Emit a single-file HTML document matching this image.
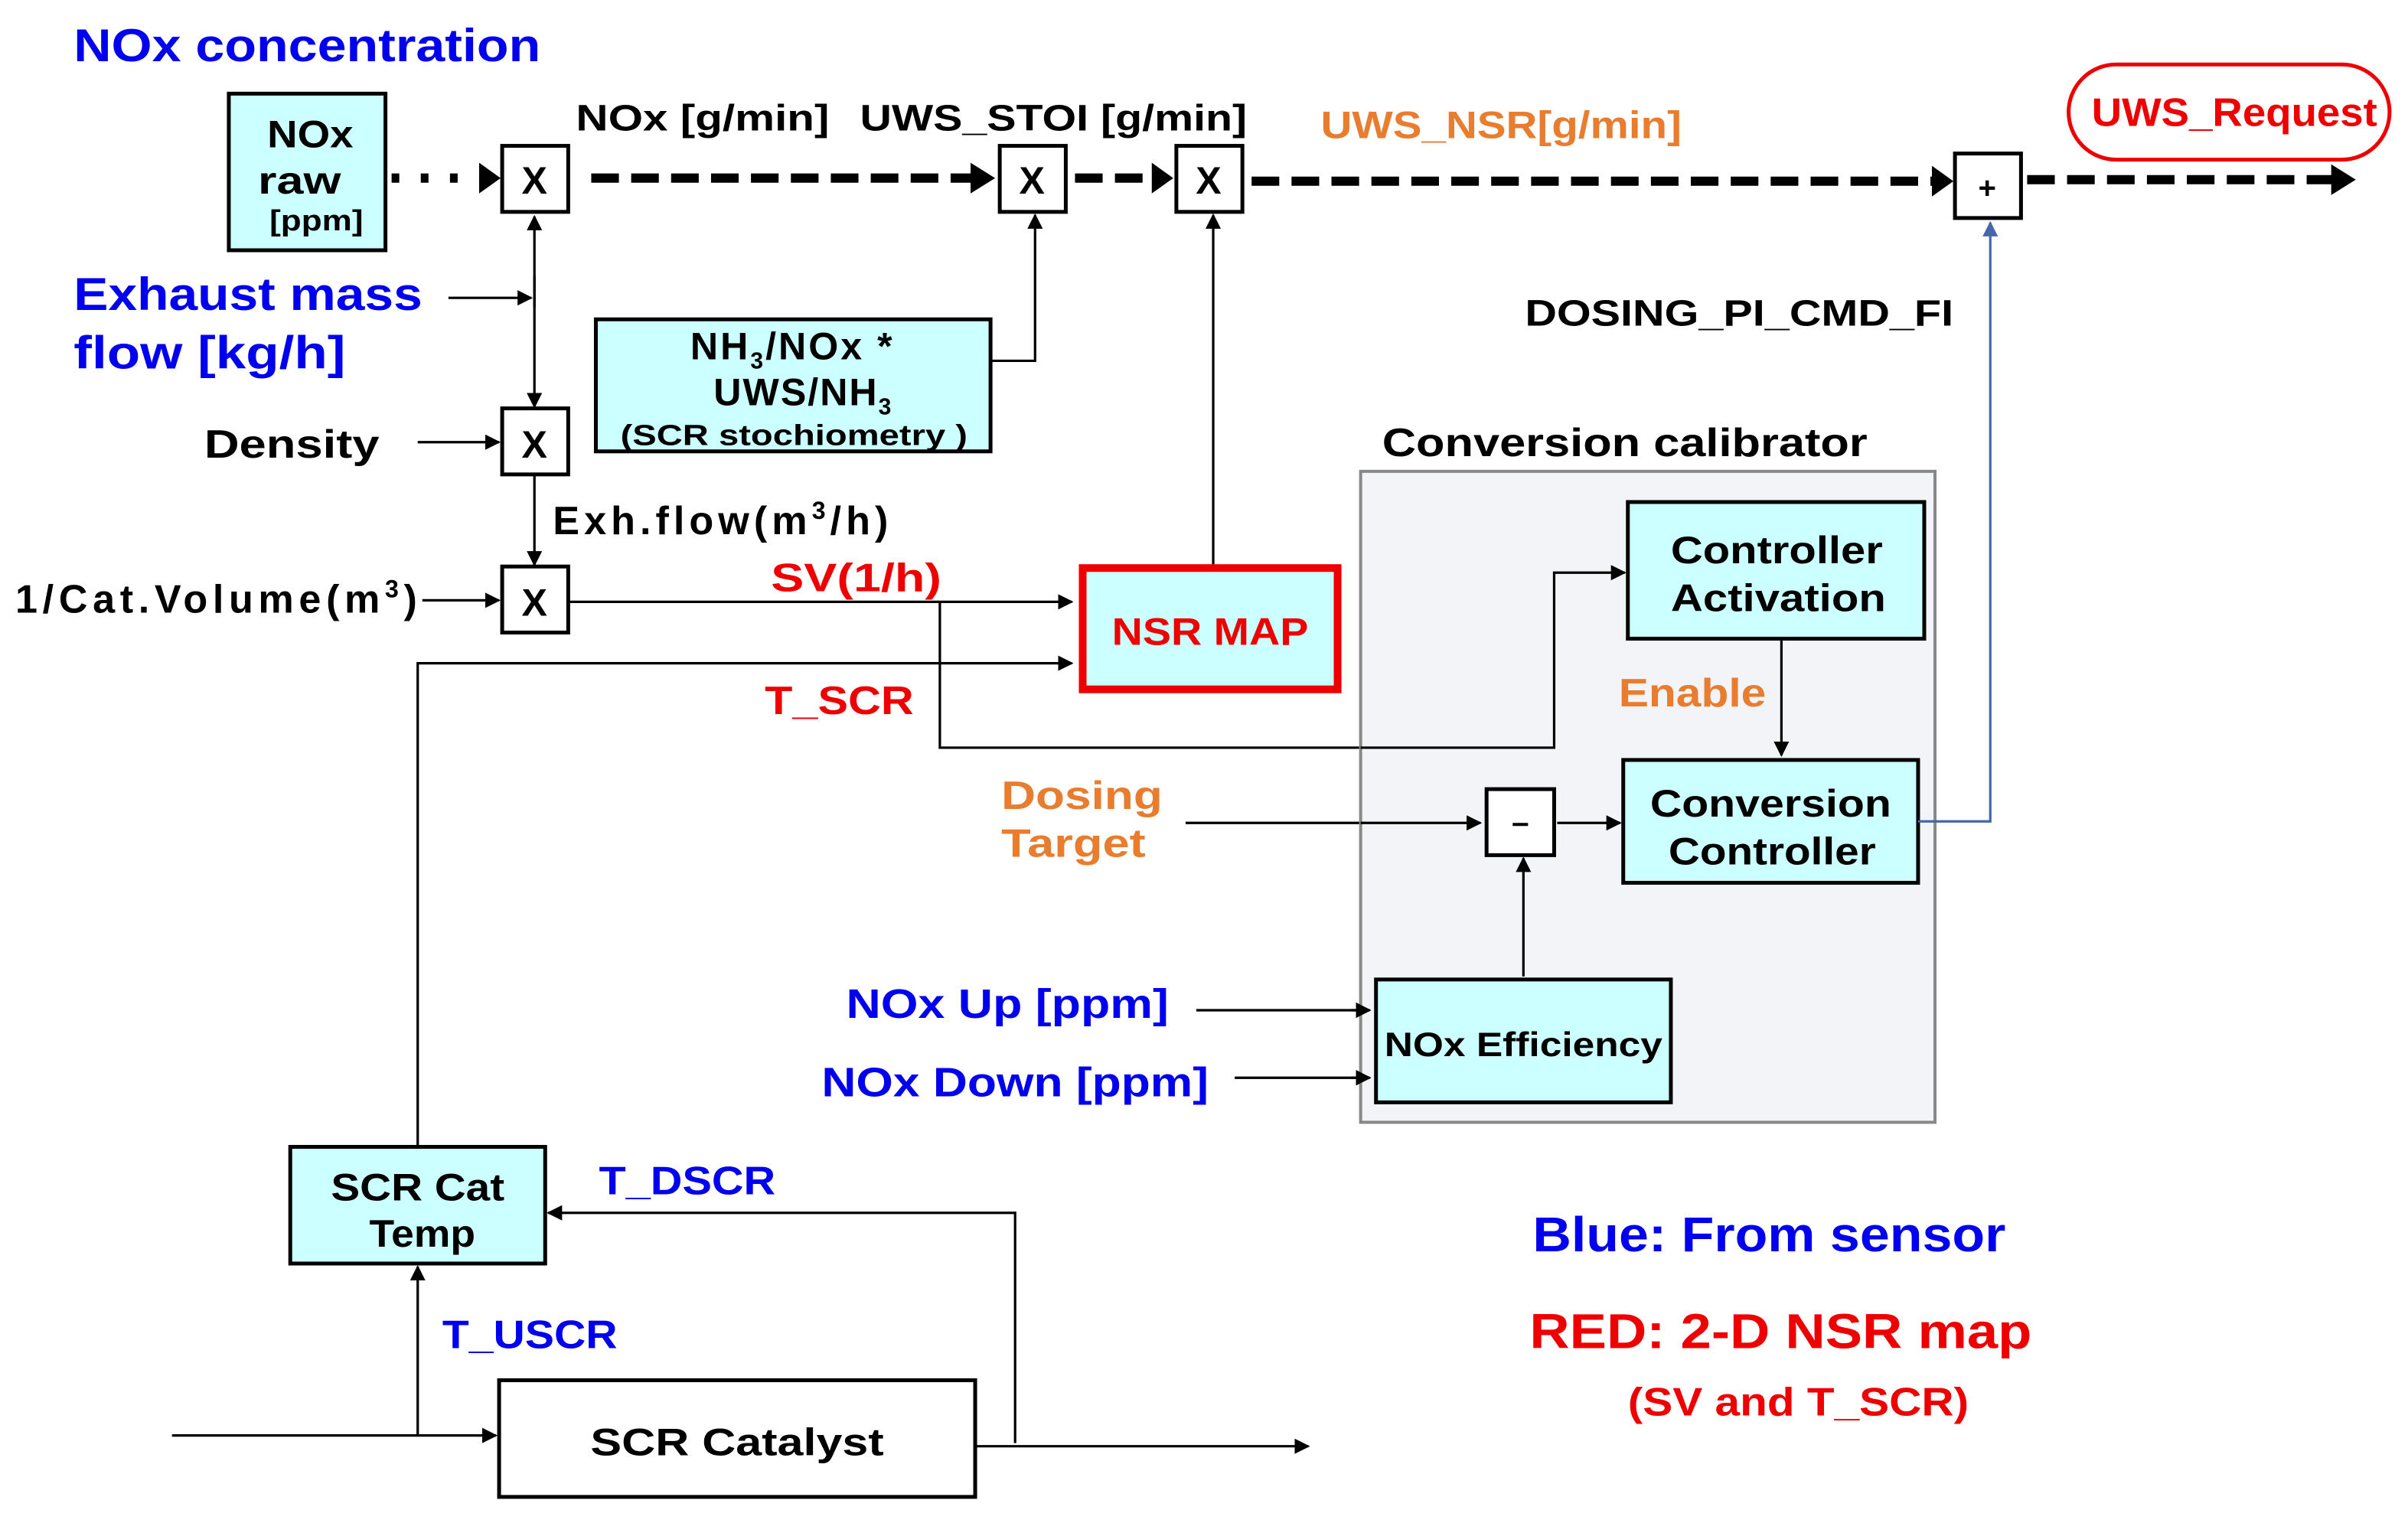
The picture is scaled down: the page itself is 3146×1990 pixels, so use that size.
<!DOCTYPE html>
<html><head><meta charset="utf-8"><style>
html,body{margin:0;padding:0;background:#fff;}
svg{display:block;}
text{font-family:"Liberation Sans",sans-serif;font-weight:bold;}
</style></head><body>
<svg width="3146" height="1990" viewBox="0 0 1568 992" preserveAspectRatio="none" xmlns="http://www.w3.org/2000/svg">
<defs>
<marker id="a" markerWidth="10" markerHeight="10" refX="9" refY="5" orient="auto" markerUnits="userSpaceOnUse" viewBox="0 0 10 10"><path d="M0,0 L10,5 L0,10 z" fill="#000"/></marker>
<marker id="ab" markerWidth="10" markerHeight="14" refX="9" refY="5" orient="auto" markerUnits="userSpaceOnUse" viewBox="0 0 10 10"><path d="M0,0 L10,5 L0,10 z" fill="#4466aa"/></marker>
</defs>
<rect width="1568" height="992" fill="#fff"/>

<text x="48" y="40" font-size="30" fill="#0000ee" textLength="304" lengthAdjust="spacingAndGlyphs">NOx concentration</text>
<rect x="149" y="61" width="102" height="102" fill="#ccffff" stroke="#000" stroke-width="2.5"/>
<text x="202" y="96" font-size="25" text-anchor="middle" textLength="56" lengthAdjust="spacingAndGlyphs">NOx</text>
<text x="195" y="126" font-size="25" text-anchor="middle" textLength="54" lengthAdjust="spacingAndGlyphs">raw</text>
<text x="206" y="150" font-size="19" text-anchor="middle" textLength="61" lengthAdjust="spacingAndGlyphs">[ppm]</text>

<g stroke="#000" stroke-width="6" fill="none">
<line x1="255" y1="116" x2="316" y2="116" stroke-dasharray="5,14"/>
<line x1="385" y1="116" x2="636" y2="116" stroke-dasharray="18,8"/>
<line x1="700" y1="116" x2="753" y2="116" stroke-dasharray="18,8"/>
<line x1="815" y1="118" x2="1262" y2="118" stroke-dasharray="18,8"/>
<line x1="1320" y1="117" x2="1522" y2="117" stroke-dasharray="18,8"/>
</g>
<g fill="#000">
<path d="M312,106 L326,116 L312,126z"/>
<path d="M632,106 L648,116 L632,126z"/>
<path d="M750,106 L764,116 L750,126z"/>
<path d="M1258,108 L1272,118 L1258,128z"/>
<path d="M1518,107 L1534,117 L1518,127z"/>
</g>

<g fill="#fff" stroke="#000" stroke-width="2.5">
<rect x="327" y="95" width="43" height="43"/>
<rect x="651" y="95" width="43" height="43"/>
<rect x="766" y="95" width="43" height="43"/>
<rect x="1273" y="100" width="43" height="42"/>
<rect x="327" y="266" width="43" height="43"/>
<rect x="327" y="369" width="43" height="43"/>
</g>
<g font-size="25" text-anchor="middle">
<text x="348" y="126">X</text>
<text x="672" y="126">X</text>
<text x="787" y="126">X</text>
<text x="348" y="298">X</text>
<text x="348" y="401">X</text>
<text x="1294" y="129" font-size="20">+</text>
</g>

<text x="375" y="85" font-size="24" textLength="165" lengthAdjust="spacingAndGlyphs">NOx [g/min]</text>
<text x="560" y="85" font-size="24" textLength="252" lengthAdjust="spacingAndGlyphs">UWS_STOI [g/min]</text>
<text x="860" y="90" font-size="25" fill="#e87d2f" textLength="235" lengthAdjust="spacingAndGlyphs">UWS_NSR[g/min]</text>

<rect x="1347" y="42" width="209" height="62" rx="31" fill="#fff" stroke="#ee0000" stroke-width="2.5"/>
<text x="1455" y="82" font-size="26" fill="#ee0000" text-anchor="middle" textLength="186" lengthAdjust="spacingAndGlyphs">UWS_Request</text>

<g stroke="#000" stroke-width="1.6" fill="none" marker-end="url(#a)">
<line x1="348" y1="200" x2="348" y2="141"/>
<line x1="348" y1="180" x2="348" y2="265"/>
<line x1="292" y1="194" x2="346" y2="194"/>
<line x1="272" y1="288" x2="325" y2="288"/>
<line x1="348" y1="309" x2="348" y2="368"/>
<line x1="275" y1="391" x2="325" y2="391"/>
<polyline points="645,235 674,235 674,140"/>
<line x1="370" y1="392" x2="698" y2="392"/>
<line x1="790" y1="368" x2="790" y2="140"/>
<polyline points="272,747 272,432 698,432"/>
<polyline points="612,392 612,487 1012,487 1012,373 1058,373"/>
<line x1="772" y1="536" x2="964" y2="536"/>
<line x1="779" y1="658" x2="892" y2="658"/>
<line x1="804" y1="702" x2="892" y2="702"/>
<polyline points="661,940 661,790 357,790"/>
<line x1="272" y1="935" x2="272" y2="825"/>
<line x1="112" y1="935" x2="323" y2="935"/>
<line x1="635" y1="942" x2="852" y2="942"/>
</g>

<text x="48" y="202" font-size="30" fill="#0000ee" textLength="227" lengthAdjust="spacingAndGlyphs">Exhaust mass</text>
<text x="48" y="240" font-size="30" fill="#0000ee" textLength="177" lengthAdjust="spacingAndGlyphs">flow [kg/h]</text>
<text x="133" y="298" font-size="26" textLength="114" lengthAdjust="spacingAndGlyphs">Density</text>
<text x="360" y="348" font-size="26" letter-spacing="3">Exh.flow(m<tspan font-size="16" dy="-10">3</tspan><tspan dy="10">/h)</tspan></text>
<text x="10" y="399" font-size="26" letter-spacing="3.3">1/Cat.Volume(m<tspan font-size="16" dy="-10">3</tspan><tspan dy="10">)</tspan></text>

<rect x="388" y="208" width="257" height="86" fill="#ccffff" stroke="#000" stroke-width="2.5"/>
<text x="516" y="234" font-size="25" text-anchor="middle" letter-spacing="1.5">NH<tspan font-size="15" dy="6">3</tspan><tspan dy="-6">/NOx *</tspan></text>
<text x="523" y="264" font-size="25" text-anchor="middle" letter-spacing="1">UWS/NH<tspan font-size="15" dy="6">3</tspan></text>
<text x="517" y="290" font-size="19" text-anchor="middle" textLength="226" lengthAdjust="spacingAndGlyphs">(SCR stochiometry )</text>

<text x="502" y="385" font-size="26" fill="#ee0000" textLength="111" lengthAdjust="spacingAndGlyphs">SV(1/h)</text>
<text x="498" y="465" font-size="26" fill="#ee0000" textLength="97" lengthAdjust="spacingAndGlyphs">T_SCR</text>
<rect x="705" y="370" width="166" height="79" fill="#ccffff" stroke="#ee0000" stroke-width="5"/>
<text x="788" y="420" font-size="25" fill="#ee0000" text-anchor="middle" textLength="128" lengthAdjust="spacingAndGlyphs">NSR MAP</text>

<text x="900" y="297" font-size="26" textLength="316" lengthAdjust="spacingAndGlyphs">Conversion calibrator</text>
<rect x="886" y="307" width="374" height="424" fill="#f2f4f8" stroke="#888" stroke-width="2"/>
<rect x="1060" y="327" width="193" height="89" fill="#ccffff" stroke="#000" stroke-width="2.5"/>
<text x="1157" y="367" font-size="25" text-anchor="middle" textLength="138" lengthAdjust="spacingAndGlyphs">Controller</text>
<text x="1158" y="398" font-size="25" text-anchor="middle" textLength="140" lengthAdjust="spacingAndGlyphs">Activation</text>
<text x="1054" y="460" font-size="26" fill="#e87d2f" textLength="96" lengthAdjust="spacingAndGlyphs">Enable</text>
<rect x="1057" y="495" width="192" height="80" fill="#ccffff" stroke="#000" stroke-width="2.5"/>
<text x="1153" y="532" font-size="25" text-anchor="middle" textLength="157" lengthAdjust="spacingAndGlyphs">Conversion</text>
<text x="1154" y="563" font-size="25" text-anchor="middle" textLength="135" lengthAdjust="spacingAndGlyphs">Controller</text>
<rect x="968" y="514" width="44" height="43" fill="#fff" stroke="#000" stroke-width="2.5"/>
<line x1="985" y1="537" x2="995" y2="537" stroke="#000" stroke-width="2"/>
<g stroke="#000" stroke-width="1.6" fill="none" marker-end="url(#a)">
<line x1="1160" y1="416" x2="1160" y2="492"/>
<line x1="1014" y1="536" x2="1055" y2="536"/>
<line x1="886" y1="536" x2="964" y2="536"/>
<line x1="992" y1="636" x2="992" y2="559"/>
<polyline points="886,487 1012,487 1012,373 1058,373"/>
<line x1="880" y1="658" x2="892" y2="658"/>
<line x1="880" y1="702" x2="892" y2="702"/>
</g>
<rect x="896" y="638" width="192" height="80" fill="#ccffff" stroke="#000" stroke-width="2.5"/>
<text x="992" y="688" font-size="22" text-anchor="middle" textLength="181" lengthAdjust="spacingAndGlyphs">NOx Efficiency</text>

<text x="652" y="527" font-size="26" fill="#e87d2f" textLength="105" lengthAdjust="spacingAndGlyphs">Dosing</text>
<text x="652" y="558" font-size="26" fill="#e87d2f" textLength="94" lengthAdjust="spacingAndGlyphs">Target</text>
<text x="551" y="663" font-size="27" fill="#0000ee" textLength="210" lengthAdjust="spacingAndGlyphs">NOx Up [ppm]</text>
<text x="535" y="714" font-size="27" fill="#0000ee" textLength="252" lengthAdjust="spacingAndGlyphs">NOx Down [ppm]</text>

<polyline points="1249,535 1296,535 1296,145" stroke="#4466aa" stroke-width="1.6" fill="none" marker-end="url(#ab)"/>
<text x="993" y="212" font-size="24" textLength="279" lengthAdjust="spacingAndGlyphs">DOSING_PI_CMD_FI</text>

<rect x="189" y="747" width="166" height="76" fill="#ccffff" stroke="#000" stroke-width="2.5"/>
<text x="272" y="782" font-size="25" text-anchor="middle" textLength="113" lengthAdjust="spacingAndGlyphs">SCR Cat</text>
<text x="275" y="812" font-size="25" text-anchor="middle" textLength="69" lengthAdjust="spacingAndGlyphs">Temp</text>
<text x="390" y="778" font-size="26" fill="#0000ee" textLength="115" lengthAdjust="spacingAndGlyphs">T_DSCR</text>
<text x="288" y="878" font-size="26" fill="#0000ee" textLength="114" lengthAdjust="spacingAndGlyphs">T_USCR</text>
<rect x="325" y="899" width="310" height="76" fill="#fff" stroke="#000" stroke-width="2.5"/>
<text x="480" y="948" font-size="25" text-anchor="middle" textLength="191" lengthAdjust="spacingAndGlyphs">SCR Catalyst</text>

<text x="998" y="815" font-size="32" fill="#0000ee" textLength="308" lengthAdjust="spacingAndGlyphs">Blue: From sensor</text>
<text x="996" y="878" font-size="32" fill="#ee0000" textLength="327" lengthAdjust="spacingAndGlyphs">RED: 2-D NSR map</text>
<text x="1060" y="922" font-size="26" fill="#ee0000" textLength="222" lengthAdjust="spacingAndGlyphs">(SV and T_SCR)</text>
</svg>
</body></html>
